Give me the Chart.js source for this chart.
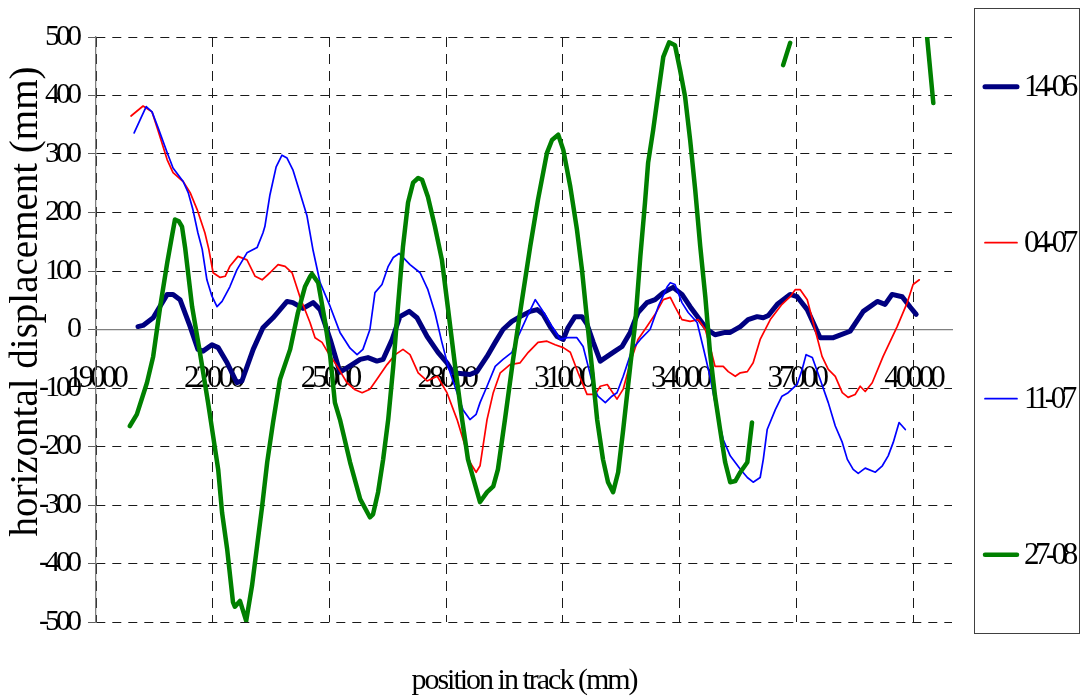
<!DOCTYPE html>
<html>
<head>
<meta charset="utf-8">
<script src="https://cdn.jsdelivr.net/npm/chart.js@4/dist/chart.umd.min.js"></script>
<style>
  html, body { margin: 0; padding: 0; background: #fff; }
  canvas { display: block; }
</style>
</head>
<body>
<canvas id="chart" width="1083" height="699"></canvas>
<script>
// Horizontal track displacement (mm) against position in track (mm), four survey dates.
const seriesLabels = ['14-06', '04-07', '11-07', '27-08'];
const seriesColors = ['#000080', '#ff0000', '#0000ff', '#008000'];
const seriesWidths = [5, 1.7, 1.7, 4.5];

const xTicks = [19000, 22000, 25000, 28000, 31000, 34000, 37000, 40000];
const yTicks = [-500, -400, -300, -200, -100, 0, 100, 200, 300, 400, 500];

const pos1406 = [20080,20210,20470,20830,20980,21160,21420,21620,21750,21980,22140,22370,22620,22750,23040,23290,23550,23730,23910,24060,24320,24580,24760,25020,25270,25530,25790,25990,26220,26380,26610,26810,27050,27250,27510,27790,28020,28180,28610,28790,29050,29260,29460,29690,29900,30160,30340,30490,30670,30850,31010,31130,31310,31490,31620,31780,31960,32140,32340,32520,32730,32930,33160,33370,33580,33830,34060,34270,34480,34710,34910,35170,35300,35560,35760,35990,36150,36280,36510,36840,37020,37280,37610,37950,38380,38720,39080,39280,39460,39720,39930,40080];
const val1406 = [5,7,20,60,60,51,5,-34,-37,-26,-31,-57,-91,-88,-34,3,20,34,48,46,36,46,34,-17,-73,-62,-51,-48,-54,-51,-17,22,31,20,-12,-39,-57,-74,-77,-72,-46,-22,0,14,22,31,34,26,5,-12,-17,3,22,22,9,-22,-54,-46,-37,-29,-5,29,46,51,63,72,60,39,20,0,-9,-5,-5,5,17,22,20,24,43,60,56,34,-14,-14,-3,31,48,43,60,56,38,26];

const pos0407 = [19900,20210,20440,20590,20830,20980,21240,21420,21600,21800,21900,22010,22190,22320,22440,22650,22880,23090,23270,23470,23680,23860,24040,24240,24500,24630,24810,24960,25200,25450,25660,25840,26040,26220,26480,26690,26890,27070,27280,27510,27770,28020,28280,28490,28610,28770,28870,29050,29210,29390,29640,29900,30110,30360,30590,30800,31010,31190,31390,31620,31830,31960,32140,32390,32550,32730,32930,33160,33370,33580,33760,33880,34060,34270,34480,34660,34780,34910,35120,35250,35430,35560,35740,35890,36070,36330,36630,36840,36970,37100,37280,37480,37660,37820,38000,38180,38330,38510,38640,38770,38950,39230,39590,39850,40000,40160];
const val0407 = [365,382,372,341,290,268,253,234,205,165,137,97,89,91,108,125,119,91,85,97,111,108,97,56,12,-14,-22,-39,-63,-91,-103,-108,-102,-85,-60,-43,-34,-43,-74,-88,-80,-108,-154,-200,-227,-244,-233,-154,-108,-74,-60,-57,-39,-22,-20,-26,-31,-39,-74,-111,-111,-97,-94,-119,-102,-57,-17,5,26,51,55,39,17,14,17,0,-29,-63,-63,-72,-80,-74,-72,-57,-17,17,43,56,68,68,51,0,-46,-68,-80,-108,-116,-111,-97,-106,-91,-46,5,46,77,85];

const pos1107 = [19980,20130,20290,20440,20590,20830,20980,21240,21370,21490,21620,21730,21850,21980,22110,22240,22440,22620,22880,23140,23290,23340,23470,23630,23780,23910,24060,24240,24420,24580,24760,25020,25270,25530,25710,25860,26040,26170,26350,26510,26640,26790,27070,27330,27530,27710,27890,28050,28280,28430,28610,28770,28870,29050,29260,29460,29690,29850,30080,30290,30490,30720,30930,31110,31360,31520,31650,31780,31900,32090,32260,32390,32550,32780,32990,33240,33450,33680,33760,33880,34060,34220,34450,34600,34780,34960,35120,35300,35560,35740,35890,36070,36150,36250,36460,36630,36790,37020,37150,37250,37410,37610,37820,38000,38180,38310,38460,38590,38770,39030,39210,39360,39490,39640,39800];
const val1107 = [336,358,381,372,346,302,276,253,234,205,165,137,85,57,39,48,73,102,131,140,165,176,230,278,298,293,273,234,195,135,80,39,-5,-32,-43,-34,0,63,77,108,123,130,111,97,68,29,-22,-63,-108,-137,-154,-145,-125,-97,-63,-51,-39,-12,22,51,31,5,-17,-14,-14,-29,-63,-97,-114,-125,-114,-108,-80,-34,-17,0,39,73,80,77,46,29,12,-29,-80,-142,-188,-216,-239,-253,-261,-253,-222,-171,-137,-114,-108,-94,-68,-43,-48,-85,-125,-165,-193,-222,-239,-246,-237,-244,-233,-216,-193,-159,-171];

// null entries break the line where the survey has no readings
const pos2708 = [19870,20050,20310,20470,20650,20830,20950,21030,21130,21210,21290,21470,21670,21880,22010,22140,22240,22370,22520,22570,22700,22860,23010,23140,23270,23400,23550,23730,23990,24190,24370,24500,24550,24710,24890,25020,25140,25270,25530,25790,26040,26120,26250,26380,26510,26640,26760,26890,27020,27150,27280,27380,27530,27710,27890,28050,28230,28410,28560,28720,28870,29050,29210,29330,29510,29720,29950,30160,30360,30590,30720,30880,31010,31190,31360,31490,31620,31750,31880,32030,32160,32290,32420,32550,32730,32860,32990,33110,33190,33320,33450,33580,33730,33880,34010,34140,34270,34400,34530,34660,34780,34910,35040,35170,35300,35430,35560,35740,35860,36300,36660,36840,38500,40360,40520];
const val2708 = [-165,-145,-91,-46,39,114,159,188,185,176,140,39,-39,-125,-182,-239,-313,-375,-466,-474,-464,-498,-438,-370,-302,-227,-159,-85,-34,29,73,90,95,80,12,-46,-125,-154,-227,-290,-321,-316,-278,-222,-154,-63,39,142,217,251,259,256,227,176,119,34,-63,-154,-222,-260,-295,-278,-268,-239,-154,-51,51,142,222,302,324,333,307,244,171,102,17,-68,-154,-222,-261,-278,-244,-171,-63,12,125,217,285,341,404,466,491,486,444,398,324,239,142,56,-39,-114,-171,-227,-261,-259,-244,-227,-159,null,452,490,null,500,387];

const positions = [pos1406, pos0407, pos1107, pos2708];
const values = [val1406, val0407, val1107, val2708];

const SERIF = "'Liberation Serif', 'Times New Roman', serif";
Chart.defaults.font.family = SERIF;
Chart.defaults.color = '#000';

const datasets = seriesLabels.map((label, i) => ({
  label,
  data: positions[i].map((x, j) => ({ x, y: values[i][j] })),
  borderColor: seriesColors[i],
  backgroundColor: seriesColors[i],
  borderWidth: seriesWidths[i],
  order: seriesLabels.length - i,   // later surveys are drawn on top
  spanGaps: false,
  fill: false
}));

// Tight letter spacing for the condensed serif lettering, and a small upward
// shift of the vertical axis title.
function tighten(obj, method, spacing, dy) {
  const original = obj[method];
  obj[method] = function (...args) {
    const c = this.ctx;
    c.save();
    c.letterSpacing = spacing;
    if (dy) c.translate(0, dy);
    const r = original.apply(this, args);
    c.restore();
    return r;
  };
}

const textTuning = {
  id: 'textTuning',
  beforeDraw(chart) {
    if (chart.$tuned) return;
    tighten(chart.scales.x, 'drawLabels', '-4px');
    tighten(chart.scales.y, 'drawLabels', '-4px');
    tighten(chart.scales.y, 'drawTitle', '0px', -28);
    if (chart.titleBlock) tighten(chart.titleBlock, 'draw', '-2px');
    chart.$tuned = true;
  }
};

// Boxed legend on the right, one row per survey date.
const boxedLegend = {
  id: 'boxedLegend',
  afterDraw(chart) {
    const c = chart.ctx;
    c.save();
    c.strokeStyle = '#404040';
    c.lineWidth = 1;
    c.strokeRect(974.5, 8.5, 105, 625);
    c.font = '31px ' + SERIF;
    c.letterSpacing = '-4.5px';
    c.textBaseline = 'middle';
    c.textAlign = 'left';
    chart.data.datasets.forEach((ds, i) => {
      const y = 86.7 + i * 156;
      c.beginPath();
      c.strokeStyle = ds.borderColor;
      c.lineWidth = ds.borderWidth;
      c.lineCap = 'round';
      c.moveTo(985, y);
      c.lineTo(1017, y);
      c.stroke();
      c.fillStyle = '#000';
      c.fillText(ds.label, 1024, y + 1);
    });
    c.restore();
  }
};

new Chart(document.getElementById('chart'), {
  type: 'line',
  data: { datasets },
  options: {
    responsive: false,
    animation: false,
    devicePixelRatio: 1,
    layout: { padding: { top: 37, right: 131, bottom: 0, left: 0 } },
    elements: {
      point: { radius: 0, hoverRadius: 0 },
      line: { tension: 0, borderCapStyle: 'round', borderJoinStyle: 'round' }
    },
    plugins: {
      legend: { display: false },
      tooltip: { enabled: false },
      title: {
        display: true,
        text: 'position in track (mm)',
        position: 'bottom',
        fullSize: false,
        color: '#000',
        font: { family: SERIF, size: 30, weight: 'normal' },
        padding: { top: 41, bottom: 0 }
      }
    },
    scales: {
      x: {
        type: 'linear',
        position: { y: 0 },
        min: 19000,
        max: 41000,
        afterBuildTicks: s => { s.ticks = xTicks.map(v => ({ value: v })); },
        border: { display: true, color: '#808080', width: 1.3, dash: [10, 7] },
        grid: { color: '#1a1a1a', lineWidth: 1, drawTicks: false },
        ticks: {
          color: '#000',
          padding: 31,
          autoSkip: false,
          maxRotation: 0,
          font: { family: SERIF, size: 31 },
          callback: v => String(v)
        }
      },
      y: {
        type: 'linear',
        position: 'left',
        min: -500,
        max: 500,
        afterBuildTicks: s => { s.ticks = yTicks.map(v => ({ value: v })); },
        afterFit: s => { s.width = 96; },
        border: { display: true, color: '#808080', width: 1.3, dash: [9, 7] },
        grid: {
          color: c => (c.tick && c.tick.value === 0 ? 'rgba(0,0,0,0)' : '#1a1a1a'),
          lineWidth: 1,
          tickLength: 8,
          tickColor: '#606060',
          tickBorderDash: []
        },
        ticks: {
          color: '#000',
          padding: 10,
          font: { family: SERIF, size: 30 },
          callback: v => String(v)
        },
        title: {
          display: true,
          text: 'horizontal displacement (mm)',
          color: '#000',
          font: { family: SERIF, size: 39, weight: 'normal' },
          padding: { top: 3, bottom: 4 }
        }
      }
    }
  },
  plugins: [textTuning, boxedLegend]
});
</script>
</body>
</html>
